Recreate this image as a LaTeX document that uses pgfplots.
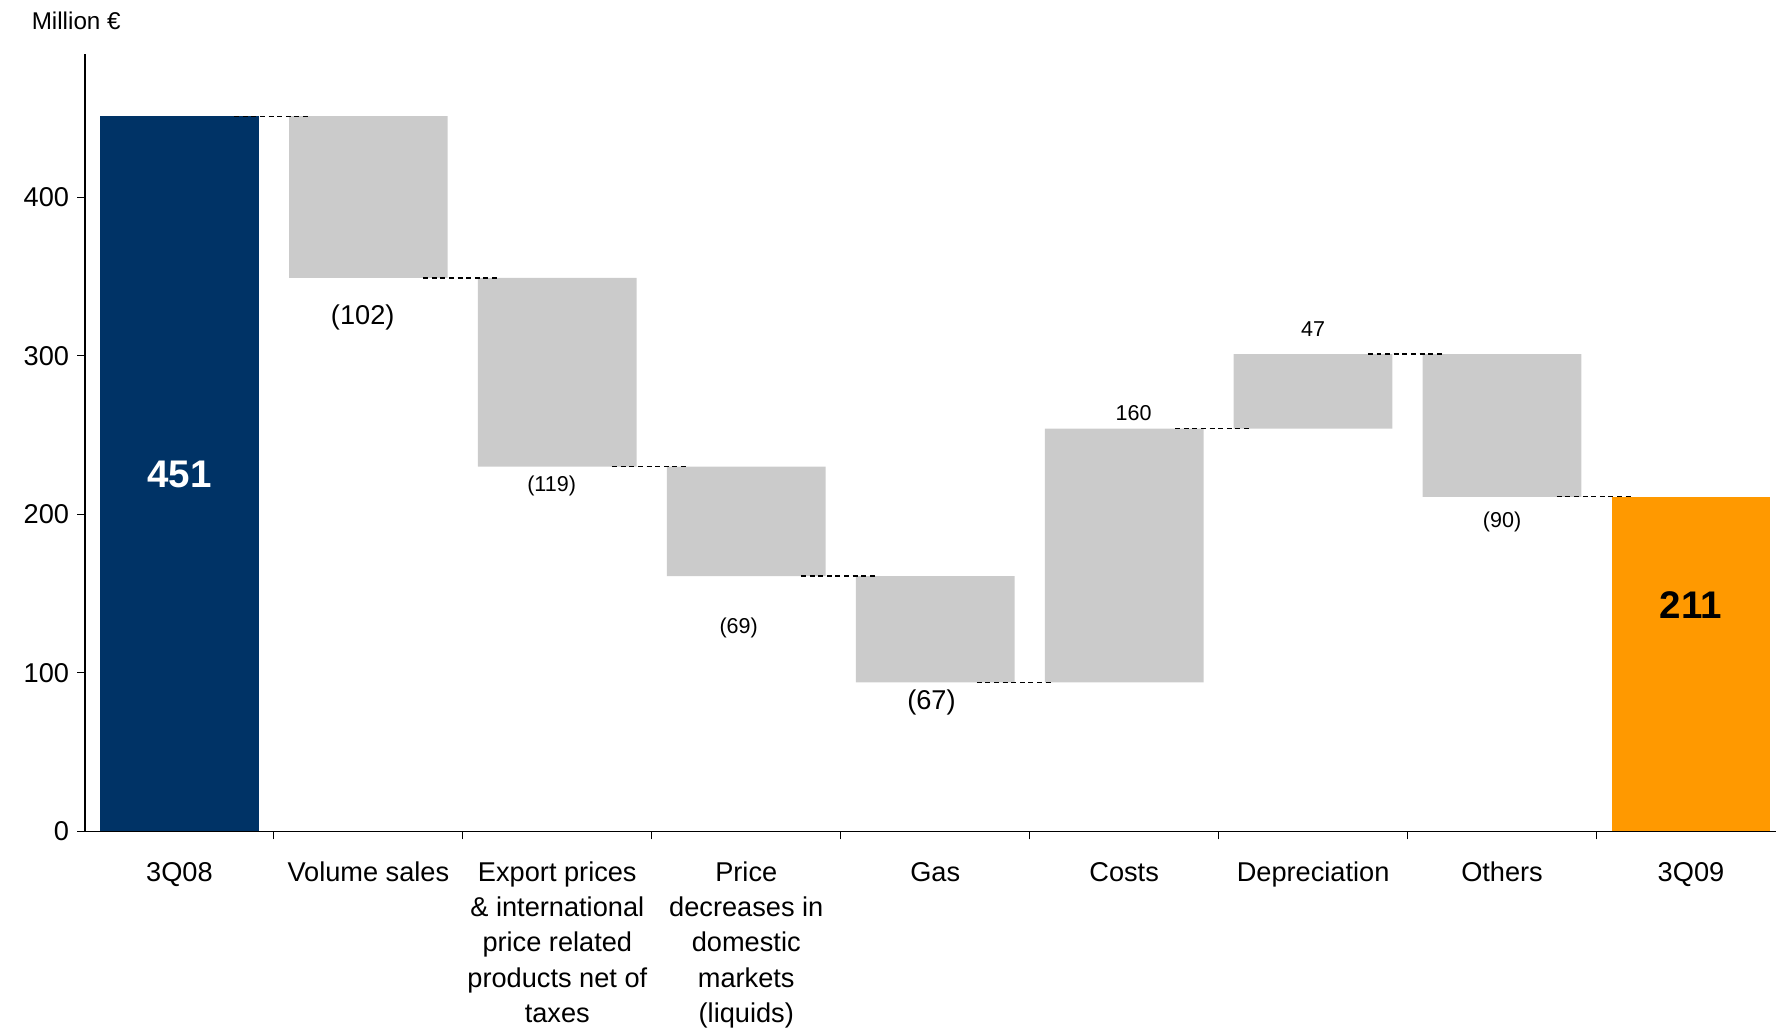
\documentclass[border=0pt]{standalone}
\usepackage{fontspec}
\setmainfont{Liberation Sans}
\usepackage{pgfplots}
\pgfplotsset{compat=1.18}

\definecolor{navy}{HTML}{003366}
\definecolor{orng}{HTML}{FF9900}
\definecolor{stepgrey}{HTML}{CBCBCB}

\pgfplotsset{
  wfall/.style={
    width=746.5pt, height=343pt, scale only axis,
    xmin=-0.5, xmax=8.45, ymin=0, ymax=490,
    at={(0,0)}, anchor=south west,
  },
  conn/.style={black, line width=0.55pt, dash pattern=on 2.2pt off 1.6pt, mark=none},
}

\begin{document}
\begin{tikzpicture}
\path[use as bounding box] (-37.5pt,-88pt) rectangle (746.5pt,367pt);

% bars: invisible base + visible step
\begin{axis}[
    wfall,
    ybar stacked, bar width=0.84,
    axis x line=bottom, axis y line=left,
    axis line style={-, black, line width=0.6pt},
    tick align=outside,
    major tick length=3.5pt,
    tick style={black, line width=0.5pt},
    ytick={0,100,...,400},
    xtick={0.5,1.5,...,7.5},
    xticklabels={},
    extra x ticks={0,...,8},
    extra x tick labels={3Q08, Volume sales,
      {Export prices\\\& international\\price related\\products net of\\taxes},
      {Price\\decreases in\\domestic\\markets\\(liquids)},
      Gas, Costs, Depreciation, Others, 3Q09},
    extra x tick style={major tick length=0pt,
      tick label style={align=center, anchor=north, yshift=-10pt,
        font=\fontsize{12}{15.5}\selectfont}},
    /pgf/number format/assume math mode=true,
    yticklabel style={font=\fontsize{12}{14}\selectfont},
  ]
  \addplot[draw=none, fill=none] coordinates
    {(0,0) (1,349) (2,230) (3,161) (4,94) (5,94) (6,254) (7,211) (8,0)};
  \addplot[draw=none, fill=stepgrey] coordinates
    {(0,0) (1,102) (2,119) (3,69) (4,67) (5,160) (6,47) (7,90) (8,0)};
  \addplot[draw=none, fill=navy] coordinates
    {(0,451) (1,0) (2,0) (3,0) (4,0) (5,0) (6,0) (7,0) (8,0)};
  \addplot[draw=none, fill=orng] coordinates
    {(0,0) (1,0) (2,0) (3,0) (4,0) (5,0) (6,0) (7,0) (8,211)};
\end{axis}

% connectors and value labels
\begin{axis}[wfall, hide axis]
  \addplot[conn] coordinates {(0.29,451) (0.70,451)};
  \addplot[conn] coordinates {(1.29,349) (1.70,349)};
  \addplot[conn] coordinates {(2.29,230) (2.70,230)};
  \addplot[conn] coordinates {(3.29,161) (3.70,161)};
  \addplot[conn] coordinates {(4.22,94) (4.63,94)};
  \addplot[conn] coordinates {(5.27,254) (5.68,254)};
  \addplot[conn] coordinates {(6.29,301) (6.70,301)};
  \addplot[conn] coordinates {(7.29,211) (7.70,211)};

  \node[font=\fontsize{12}{14}\selectfont] at (axis cs:0.97,324) {(102)};
  \node[font=\fontsize{9.5}{11}\selectfont] at (axis cs:1.97,218) {(119)};
  \node[font=\fontsize{9.5}{11}\selectfont] at (axis cs:2.96,128) {(69)};
  \node[font=\fontsize{12}{14}\selectfont] at (axis cs:3.98,81) {(67)};
  \node[font=\fontsize{9.5}{11}\selectfont] at (axis cs:5.05,264) {160};
  \node[font=\fontsize{9.5}{11}\selectfont] at (axis cs:6.0,317) {47};
  \node[font=\fontsize{9.5}{11}\selectfont] at (axis cs:7.0,195) {(90)};
  \node[font=\bfseries\fontsize{17}{20}\selectfont, white] at (axis cs:0,225) {451};
  \node[font=\bfseries\fontsize{17}{20}\selectfont] at (axis cs:8,143) {211};
\end{axis}

\node[anchor=west, font=\fontsize{10.7}{12}\selectfont] at (-27pt,358pt) {Million €};
\end{tikzpicture}
\end{document}
